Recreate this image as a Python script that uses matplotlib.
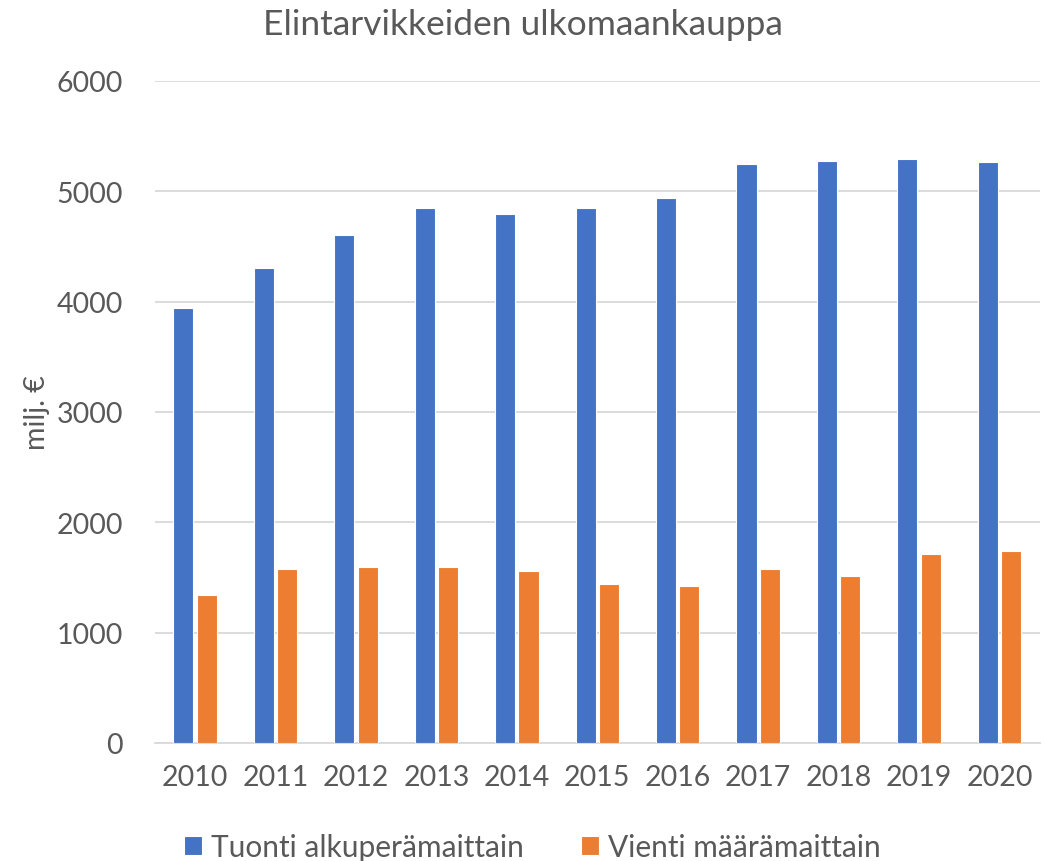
import matplotlib

matplotlib.use("Agg")
import matplotlib.pyplot as plt
import numpy as np

years = ["2010", "2011", "2012", "2013", "2014", "2015", "2016", "2017", "2018", "2019", "2020"]
tuonti = [3940, 4305, 4605, 4850, 4795, 4850, 4935, 5250, 5275, 5290, 5265]
vienti = [1345, 1578, 1597, 1590, 1562, 1441, 1425, 1580, 1515, 1715, 1740]
series_names = ["Tuonti alkuperämaittain", "Vienti määrämaittain"]

BLUE = "#4472C4"
ORANGE = "#ED7D31"
TEXT = "#595959"
GRID = "#D9D9D9"

plt.rcParams["font.family"] = ["Lato", "DejaVu Sans"]

fig = plt.figure(figsize=(10.46, 8.62), dpi=100)
ax = fig.add_axes([0.148, 0.137, 0.846, 0.768])

x = np.arange(len(years))
w = 0.25
b1 = ax.bar(x - 0.145, tuonti, w, color=BLUE, edgecolor="white", linewidth=0.8, label=series_names[0], zorder=3)
b2 = ax.bar(x + 0.145, vienti, w, color=ORANGE, edgecolor="white", linewidth=0.8, label=series_names[1], zorder=3)

ax.set_xlim(-0.5, len(years) - 0.5)
ax.set_ylim(0, 6000)
ax.set_yticks(np.arange(0, 6001, 1000))
ax.set_xticks(x)
ax.set_xticklabels(years)
ax.yaxis.grid(True, color=GRID, linewidth=1.3, zorder=0)
ax.set_axisbelow(True)
for s in ["top", "right", "left"]:
    ax.spines[s].set_visible(False)
ax.spines["bottom"].set_color(GRID)
ax.spines["bottom"].set_linewidth(1.3)
ax.tick_params(axis="both", length=0, labelsize=20.5, colors=TEXT)
ax.tick_params(axis="y", pad=23)
ax.tick_params(axis="x", pad=15)

ax.set_ylabel("milj. €", fontsize=20.5, color=TEXT)
ax.yaxis.set_label_coords(-0.118, 0.5)

fig.text(0.5, 0.971, "Elintarvikkeiden ulkomaankauppa", ha="center", va="center", fontsize=25.5, color=TEXT)

fig.legend(handles=[b1, b2], loc="center", bbox_to_anchor=(0.509, 0.016), ncol=2, frameon=False,
           fontsize=21.5, labelcolor=TEXT, handlelength=0.6, handleheight=0.6, handletextpad=0.3,
           columnspacing=1.9)

fig.savefig("out.png", dpi=100)
